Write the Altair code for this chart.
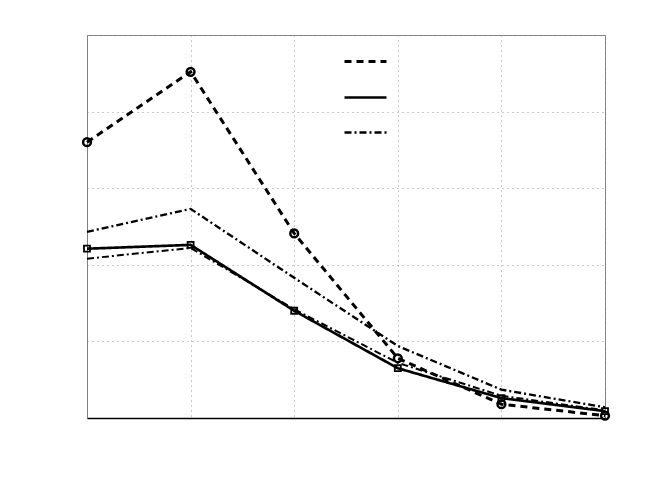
import altair as alt
import pandas as pd

x_vals = [1, 2, 3, 4, 5, 6]
series_names = ["A", "B", "C", "D"]
a_vals = [3.60, 4.52, 2.41, 0.78, 0.18, 0.03]
b_vals = [2.21, 2.26, 1.40, 0.65, 0.26, 0.09]
c_vals = [2.43, 2.73, 1.83, 0.94, 0.37, 0.14]
d_vals = [2.08, 2.22, 1.42, 0.72, 0.29, 0.10]

rows = []
for name, vals in zip(series_names, [a_vals, b_vals, c_vals, d_vals]):
    for xv, yv in zip(x_vals, vals):
        rows.append({"x": xv, "y": yv, "series": name})
df = pd.DataFrame(rows)

xscale = alt.Scale(domain=[1, 6], nice=False, zero=False)
yscale = alt.Scale(domain=[0, 5], nice=False)
xaxis = alt.Axis(labels=False, ticks=False, title=None, values=[1, 2, 3, 4, 5, 6],
                 domainColor="black", domainWidth=1.5, gridColor="#999999", gridDash=[1, 4])
yaxis = alt.Axis(labels=False, ticks=False, title=None, values=[0, 1, 2, 3, 4, 5],
                 domainColor="#808080", gridColor="#999999", gridDash=[1, 4])

base = alt.Chart(df)

lines = base.mark_line(color="black", opacity=1).encode(
    x=alt.X("x:Q", scale=xscale, axis=xaxis),
    y=alt.Y("y:Q", scale=yscale, axis=yaxis),
    strokeDash=alt.StrokeDash(
        "series:N",
        scale=alt.Scale(domain=series_names,
                        range=[[7, 5], [1, 0], [7, 3, 2, 3], [7, 3, 2, 3]]),
        legend=alt.Legend(values=["A", "B", "C"], orient="none", legendX=256, legendY=4,
                          title=None, labelExpr="''", symbolType="stroke", symbolSize=1764,
                          symbolStrokeColor="black", symbolStrokeWidth=2, rowPadding=7,
                          labelFontSize=1, padding=0),
    ),
    strokeWidth=alt.StrokeWidth(
        "series:N",
        scale=alt.Scale(domain=series_names, range=[3, 2, 1.2, 1.5]),
        legend=None,
    ),
)

circles = base.transform_filter(alt.datum.series == "A").mark_point(
    shape="circle", color="black", filled=False, size=60, strokeWidth=2.5, opacity=1
).encode(x=alt.X("x:Q", scale=xscale), y=alt.Y("y:Q", scale=yscale))

squares = base.transform_filter(alt.datum.series == "B").mark_point(
    shape="square", color="black", filled=False, size=36, strokeWidth=1.8, opacity=1
).encode(x=alt.X("x:Q", scale=xscale), y=alt.Y("y:Q", scale=yscale))

chart = alt.layer(lines, circles, squares).properties(
    width=518, height=383,
    autosize=alt.AutoSizeParams(type="none"),
    padding={"left": 79, "top": 27, "right": 10, "bottom": 10},
).configure_view(stroke="#808080", strokeWidth=1)

chart.save("out.html", embed_options={"renderer": "svg", "actions": False})
